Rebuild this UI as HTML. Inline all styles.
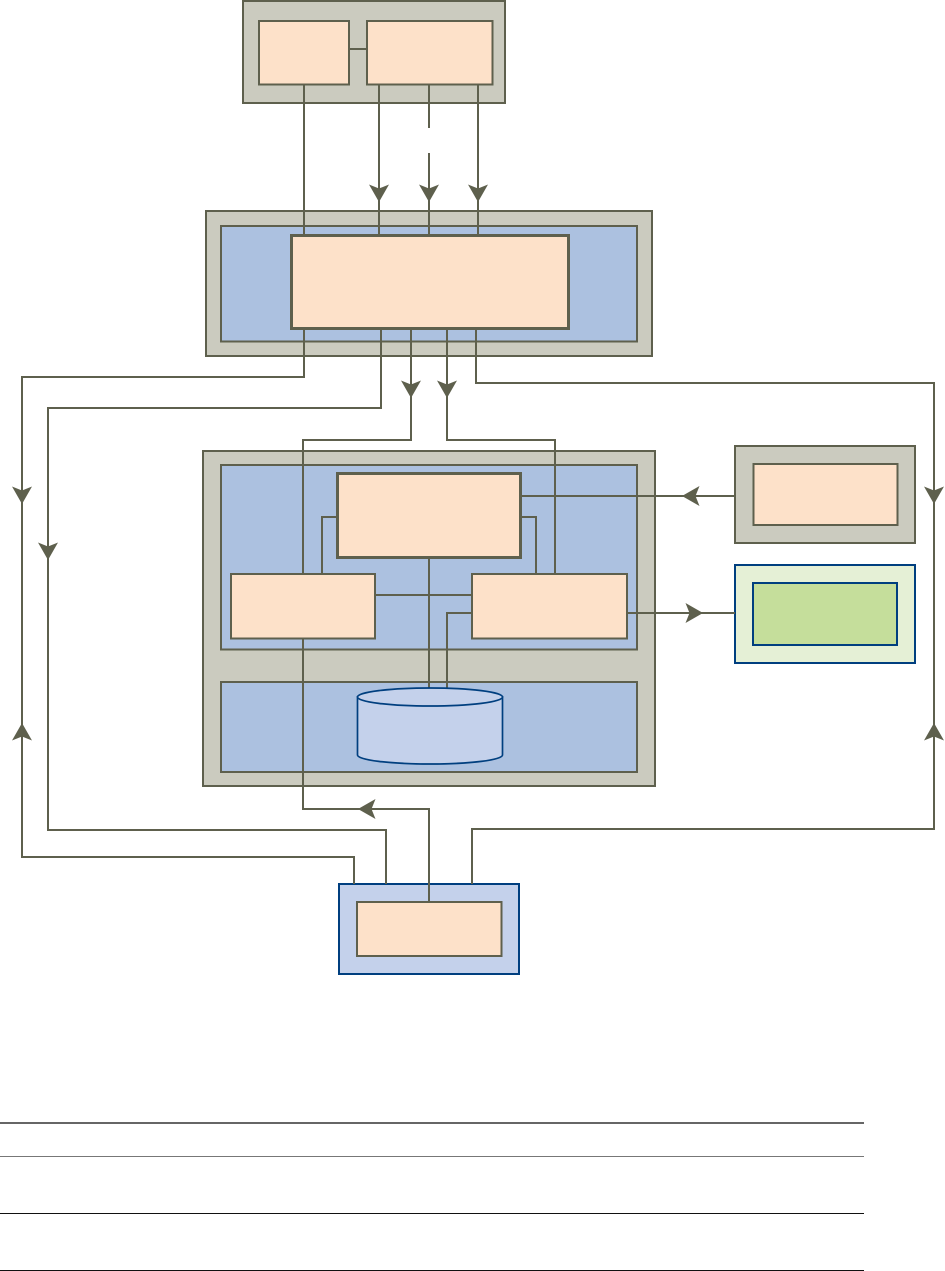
<!DOCTYPE html>
<html>
<head>
<meta charset="utf-8">
<style>
html,body{margin:0;padding:0;background:#fff;width:945px;height:1271px;overflow:hidden}
svg{display:block}
</style>
</head>
<body>
<svg width="945" height="1271" viewBox="0 0 945 1271" xmlns="http://www.w3.org/2000/svg">
<rect width="945" height="1271" fill="#fff"/>
<!-- containers -->
<g stroke="#5e604d" stroke-width="2" fill="#cbcbbf">
<rect x="243" y="1" width="262" height="102"/>
<rect x="206" y="211" width="446" height="145"/>
<rect x="203" y="451" width="452" height="335"/>
<rect x="735" y="446" width="180" height="97"/>
</g>
<g stroke="#5e604d" stroke-width="2" fill="#acc1e0">
<rect x="221" y="226" width="416" height="115.5"/>
<rect x="221" y="465" width="416" height="184.5"/>
<rect x="221" y="682" width="416" height="90"/>
</g>
<rect x="735" y="565" width="180" height="98" fill="#e5f0d6" stroke="#003f7f" stroke-width="2"/>
<rect x="753" y="583" width="144" height="62" fill="#c5de9b" stroke="#003f7f" stroke-width="2"/>
<rect x="339" y="884" width="180" height="90" fill="#c4d1eb" stroke="#003f7f" stroke-width="2"/>
<!-- connectors -->
<g fill="none" stroke="#5e604d" stroke-width="2">
<path d="M349 49H367"/>
<path d="M304 84V235"/>
<path d="M379 84V235"/>
<path d="M429 84V128"/>
<path d="M429 153V235"/>
<path d="M478 84V235"/>
<path d="M304 329V377H22V857H354V884"/>
<path d="M381 329V408H48V830H386V884"/>
<path d="M411 329V440H303V574"/>
<path d="M447 329V440H555V574"/>
<path d="M476 329V383H934V829H472V884"/>
<path d="M322 574V517H337"/>
<path d="M521 517H536V574"/>
<path d="M375 595H472"/>
<path d="M429 558V690"/>
<path d="M472 613H447V690"/>
<path d="M521 496H735"/>
<path d="M627 613H735"/>
<path d="M303 638V809H429V902"/>
</g>
<!-- peach nodes -->
<g stroke="#5e604d" stroke-width="2" fill="#fde1c9">
<rect x="259" y="21" width="90" height="63.5"/>
<rect x="367" y="21" width="125.5" height="63.5"/>
<rect x="231" y="574" width="144" height="64.5"/>
<rect x="472" y="574" width="155" height="64.5"/>
<rect x="753.5" y="464" width="144" height="61"/>
<rect x="357" y="902" width="144.5" height="54"/>
</g>
<g stroke="#5e604d" stroke-width="3" fill="#fde1c9">
<rect x="291.5" y="235.5" width="277" height="93"/>
<rect x="337.5" y="473.5" width="183" height="84"/>
</g>
<!-- cylinder -->
<path d="M357.5 697V755C357.5 760 390 764 430 764C470 764 502.5 760 502.5 755V697Z" fill="#c4d1eb" stroke="#003f7f" stroke-width="1.7"/>
<ellipse cx="430" cy="697" rx="72.5" ry="9" fill="#c4d1eb" stroke="#003f7f" stroke-width="1.7"/>
<!-- arrowheads -->
<g fill="#5e604d">
<path d="M379 202L369 184.5L379 188.5L389 184.5Z"/>
<path d="M429 202L419 184.5L429 188.5L439 184.5Z"/>
<path d="M478 202L468 184.5L478 188.5L488 184.5Z"/>
<path d="M411 398L401 380.5L411 384.5L421 380.5Z"/>
<path d="M447 398L437 380.5L447 384.5L457 380.5Z"/>
<path d="M22 504L12 486.5L22 490.5L32 486.5Z"/>
<path d="M48 560L38 542.5L48 546.5L58 542.5Z"/>
<path d="M934 504L924 486.5L934 490.5L944 486.5Z"/>
<path d="M22 723L12 740.5L22 736.5L32 740.5Z"/>
<path d="M934 723L924 740.5L934 736.5L944 740.5Z"/>
<path d="M358 809L375.5 799L371.5 809L375.5 819Z"/>
<path d="M682 496L699.5 486L695.5 496L699.5 506Z"/>
<path d="M703 613L685.5 603L689.5 613L685.5 623Z"/>
</g>
<!-- table rules -->
<rect x="0" y="1122" width="864" height="2" fill="#666"/>
<rect x="0" y="1156" width="864" height="1" fill="#777"/>
<rect x="0" y="1213" width="864" height="1" fill="#111"/>
<rect x="0" y="1270" width="864" height="1" fill="#111"/>
</svg>
</body>
</html>
